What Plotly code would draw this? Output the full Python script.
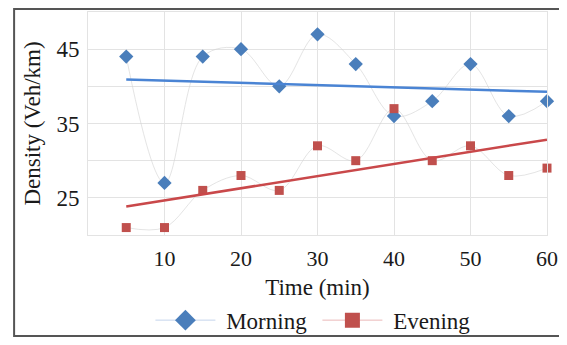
import numpy as np
import plotly.graph_objects as go

time_min = [5, 10, 15, 20, 25, 30, 35, 40, 45, 50, 55, 60]
morning = [44, 27, 44, 45, 40, 47, 43, 36, 38, 43, 36, 38]
evening = [21, 21, 26, 28, 26, 32, 30, 37, 30, 32, 28, 29]
x_ticks = [10, 20, 30, 40, 50, 60]
y_ticks = [20, 25, 30, 35, 40, 45, 50]
y_ticktext = ["", "25", "", "35", "", "45", ""]

BLUE = "#4a7ebb"
RED = "#c0504d"
FONT = "Liberation Serif"
FS = 23
NB = "\u00a0"

fig = go.Figure()

def add_series(y, color, symbol, size, lsize, name, legend_line, trend_color, trend_width):
    fig.add_trace(go.Scatter(
        x=time_min, y=y, mode="lines+markers", showlegend=False, cliponaxis=False,
        line=dict(color="rgba(210,210,210,0.6)", width=1, shape="spline"),
        marker=dict(symbol=symbol, size=size, color=color),
    ))
    k, b = np.polyfit(time_min, y, 1)
    xs = [time_min[0], time_min[-1]]
    fig.add_trace(go.Scatter(
        x=xs, y=[k * v + b for v in xs], mode="lines", showlegend=False,
        line=dict(color=trend_color, width=trend_width),
    ))
    fig.add_trace(go.Scatter(
        x=[None], y=[None], mode="lines+markers", name=name,
        line=dict(color=legend_line, width=1),
        marker=dict(symbol=symbol, size=lsize, color=color),
    ))

add_series(morning, BLUE, "diamond", 11, 17, NB + "Morning" + NB, "#c5d5ec", "#4a84d4", 2.5)
add_series(evening, RED, "square", 9, 15, NB + "Evening", "#eab8b8", "#c9484a", 2.5)

fig.update_layout(
    width=551, height=329,
    margin=dict(l=80, r=12, t=4, b=102, autoexpand=False),
    paper_bgcolor="white", plot_bgcolor="white",
    font=dict(family=FONT, size=FS, color="#1a1a1a"),
    legend=dict(orientation="h", x=0.49, xanchor="center", y=-0.382, yanchor="middle",
                font=dict(family=FONT, size=FS), itemwidth=60, bgcolor="rgba(0,0,0,0)"),
    shapes=[dict(type="rect", xref="paper", yref="paper",
                 x0=-0.161, x1=1.1, y0=-0.453, y1=1.013,
                 line=dict(color="#555555", width=2), layer="below")],
)
fig.update_xaxes(
    range=[0, 60], tickvals=x_ticks, showgrid=True, gridcolor="#e3e3e3", gridwidth=1,
    showline=True, linecolor="#e3e3e3", mirror=True, zeroline=False, automargin=False,
    ticklabelstandoff=4, tickfont=dict(size=22),
    title=dict(text="Time (min)", standoff=8, font=dict(family=FONT, size=FS)),
)
fig.update_yaxes(
    range=[20, 50], tickvals=y_ticks, ticktext=y_ticktext,
    showgrid=True, gridcolor="#e3e3e3", gridwidth=1,
    showline=True, linecolor="#e3e3e3", mirror=True, zeroline=False, automargin=False,
    ticklabelstandoff=3,
    title=dict(text="Density (Veh/km)", standoff=9, font=dict(family=FONT, size=FS)),
)

fig.write_html("out.html")
